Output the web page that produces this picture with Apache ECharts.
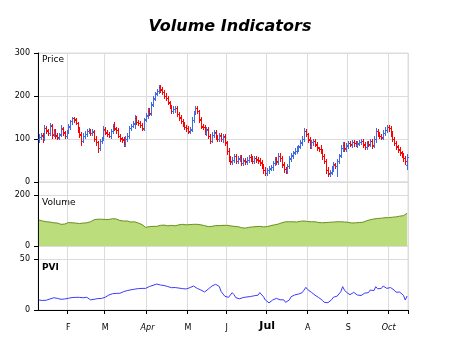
<!DOCTYPE html>
<html><head><meta charset="utf-8">
<script src="https://cdn.jsdelivr.net/npm/echarts@6/dist/echarts.min.js"></script>
<style>html,body{margin:0;padding:0;background:#fff}#c{width:460px;height:345px}</style>
</head><body><div id="c"></div>
<script>
// ---- data ----
const startDate = [2021, 0, 8];   // first trading day shown
const barCount = 201;
const monthTickLabels = ['J','F','M','Apr','M','J','Jul','A','S','Oct','N','D'];
const priceTicks = [0, 100, 200, 300];
const volumeTicks = [0, 200];
const pviTicks = [0, 50];

const opens = [
100,104,110,102,126,120,114,130,111,121,
109,103,110,124,116,107,119,129,141,149,
146,137,123,111,96,107,111,119,121,114,
117,101,93,79,96,101,123,116,111,107,
119,131,124,121,107,101,99,87,101,107,
126,131,137,149,139,137,133,124,146,154,166,
159,181,194,206,211,221,216,209,201,196,
184,176,164,169,173,157,151,141,136,127,
126,117,123,144,161,173,164,146,129,127,
114,123,107,96,109,116,104,99,109,99,
106,91,73,56,47,51,61,49,54,59,
44,51,47,51,59,56,49,56,53,51,
46,39,29,21,27,31,34,44,53,47,
61,56,41,31,27,37,54,61,69,71,
77,83,91,101,119,111,99,84,93,96,
87,81,77,71,61,49,29,19,23,31,41,
37,49,61,79,86,77,84,91,87,93,
91,87,89,93,96,87,81,91,87,96,
84,99,119,113,107,103,114,121,129,126,
113,101,91,83,76,69,63,56,40];
const closes = [
105,108,100,125,118,115,132,110,120,108,
104,112,125,115,108,118,130,142,148,145,
138,122,110,95,108,112,118,120,115,118,
100,92,78,95,100,122,115,112,108,118,
130,125,120,108,102,98,88,100,108,125,
130,136,148,140,138,132,125,145,155,165,160,
180,195,205,212,220,215,210,200,195,185,
175,165,170,172,158,150,142,135,128,125,
118,122,145,160,172,165,145,130,128,115,
122,108,95,110,115,105,100,108,100,105,
92,72,55,48,52,60,50,55,58,45,
50,48,52,58,55,50,55,52,50,45,
38,28,22,28,32,35,45,52,48,60,
55,40,30,28,38,55,62,68,72,78,
82,92,100,118,112,98,85,92,95,88,
80,76,72,60,50,28,20,22,32,40,38,
48,62,78,85,78,85,90,88,92,90,
88,90,92,95,88,82,90,88,95,85,
100,118,112,108,104,115,122,128,125,112,
100,90,82,75,68,62,55,48,58];
const highs = [
111,113,114,133,131,124,138,135,124,124,
113,115,133,129,119,122,135,145,152,152,
150,140,127,117,114,118,123,125,124,123,
120,106,96,100,105,130,127,121,116,124,
136,139,129,125,112,104,104,106,113,130,
135,141,156,153,144,141,137,150,160,171,171,
186,201,210,217,226,225,221,213,206,200,
189,180,176,177,177,162,155,146,140,132,
130,128,151,165,176,177,168,151,134,132,
127,127,112,116,121,120,109,113,113,111,
111,95,79,61,58,66,65,60,63,63,
55,56,57,62,64,61,60,60,58,55,
51,43,34,32,37,39,50,58,58,68,
67,60,46,35,43,61,68,73,78,84,
87,97,106,125,124,115,104,97,99,100,
92,82,85,76,65,54,34,28,37,46,45,
54,66,86,93,92,90,95,95,98,97,
95,95,97,99,100,92,96,96,100,100,
108,126,123,117,112,121,128,133,133,130,
119,105,96,87,81,73,67,60,65];
const lows = [
94,99,92,98,113,109,110,102,107,103,
99,99,106,110,102,103,115,124,136,140,
134,116,104,85,92,102,106,114,110,110,
95,86,70,75,91,97,111,107,104,102,
115,120,114,104,96,92,84,83,96,103,
121,127,125,136,132,127,120,120,141,149,155,
155,176,190,202,206,210,204,195,190,181,
171,160,160,163,153,145,138,130,124,119,
113,113,119,139,157,160,140,126,123,111,
109,102,90,92,104,99,95,95,96,94,
87,66,50,42,42,46,44,44,49,40,
40,43,41,47,50,44,44,46,45,40,
33,22,16,16,22,27,29,39,42,42,
50,35,24,22,22,33,49,56,64,67,
72,79,86,96,106,93,80,79,87,83,
74,71,67,54,44,20,14,14,19,26,33,
15,44,57,73,72,72,79,83,82,84,
83,82,85,88,82,77,77,83,83,80,
82,94,106,103,99,99,109,116,119,107,
95,85,76,70,63,57,50,43,30];
const volumes = [
102,100,98,96,95,96,94,93,91,91,
90,88,85,84,86,89,92,93,91,92,
90,89,88,88,90,92,91,93,95,98,
103,106,105,104,105,103,104,102,104,106,
107,105,106,103,100,101,98,97,98,95,
94,95,95,92,90,88,84,78,73,74,76,
75,77,78,77,80,81,80,82,80,79,
80,81,80,79,81,83,84,85,84,83,
85,84,86,85,84,85,84,83,82,80,
78,76,75,77,78,80,81,80,82,81,
82,81,80,79,78,77,76,76,74,72,
71,70,72,73,74,75,74,76,75,77,
76,75,77,76,79,80,82,83,84,86,
88,91,94,95,96,95,94,95,93,94,
95,97,96,98,97,96,97,95,94,95,
93,92,92,91,90,92,94,93,95,94,96,
95,96,95,96,94,95,93,92,90,89,
91,90,92,94,93,96,99,101,103,104,
106,107,108,110,109,110,111,112,111,112,
113,112,114,115,117,118,119,122,128];
const pvi = [
9.8,9.5,9.3,9.2,9.6,10.3,10.8,11.2,12.0,12.4,
11.4,11.0,10.5,10.6,10.8,10.8,11.5,12.0,12.2,12.4,
12.4,12.3,12.4,11.0,12.0,13.7,12.5,11.8,10.0,9.2,
10.5,10.8,11.2,11.4,11.3,11.4,12.5,13.8,14.7,15.2,
16.0,16.3,16.3,16.3,16.4,17.2,18.0,18.0,19.0,19.6,
19.8,20.1,20.4,20.6,21.0,21.2,21.2,21.2,21.2,22.0,23.0,
23.5,24.2,25.0,25.5,25.0,24.5,24.5,24.0,23.5,23.0,
22.0,21.9,22.4,22.0,21.8,21.5,21.2,21.0,20.8,20.6,
21.0,21.9,22.5,23.5,22.0,21.2,20.0,19.6,18.5,17.6,
18.5,20.5,22.0,23.5,25.0,25.2,24.8,23.0,18.0,16.3,
13.5,12.4,12.4,12.6,17.0,15.0,12.0,10.8,11.0,11.5,
12.2,13.0,12.8,13.0,13.2,13.6,14.0,12.4,14.5,17.0,
17.3,13.0,9.8,8.5,7.0,7.8,9.8,10.8,11.4,10.5,
10.0,11.0,10.0,7.5,6.5,9.8,13.0,14.0,14.8,15.4,
15.6,15.8,17.0,19.5,22.2,20.0,18.5,17.4,16.5,14.5,
13.0,12.2,11.5,9.5,7.5,7.3,7.2,8.5,10.0,12.5,13.0,
13.6,15.5,17.9,22.9,19.5,17.5,16.3,15.0,15.2,17.3,
15.5,14.7,14.5,14.2,16.0,16.5,16.4,17.0,19.6,18.0,
19.0,22.9,20.8,20.5,21.2,23.5,22.5,21.2,20.0,22.0,
21.0,19.5,17.5,16.3,17.5,16.0,14.5,9.8,13.7];

// ---- trading-day categories (weekdays) ----
const dates = [];
(function () {
  let t = Date.UTC(startDate[0], startDate[1], startDate[2]);
  while (dates.length < barCount) {
    const d = new Date(t);
    const wd = d.getUTCDay();
    if (wd !== 0 && wd !== 6) dates.push(d.toISOString().slice(0, 10));
    t += 86400000;
  }
})();
function isMonthStart(i) { return i > 0 && dates[i].slice(5, 7) !== dates[i - 1].slice(5, 7); }

// ---- styles ----
const UP = '#4169e1', DOWN = '#ff0000';
const GRID_C = '#dcdcdc';
const FONT = 'DejaVu Sans';

const ohlcData = closes.map((c, i) => [i, opens[i], c, lows[i], highs[i]]);

function renderOHLC(params, api) {
  const i = api.value(0);
  const o = api.coord([i, api.value(1)]);
  const c = api.coord([i, api.value(2)]);
  const l = api.coord([i, api.value(3)]);
  const h = api.coord([i, api.value(4)]);
  const x = Math.round(o[0]) + 0.5;
  const color = api.value(2) >= api.value(1) ? UP : DOWN;
  const st = { stroke: color, lineWidth: 1 };
  const oy = Math.round(o[1]) + 0.5, cy = Math.round(c[1]) + 0.5;
  return { type: 'group', children: [
    { type: 'line', shape: { x1: x, y1: Math.round(h[1]), x2: x, y2: Math.round(l[1]) + 1 }, style: st },
    { type: 'line', shape: { x1: x - 1.5, y1: oy, x2: x - 0.5, y2: oy }, style: st },
    { type: 'line', shape: { x1: x + 0.5, y1: cy, x2: x + 1.5, y2: cy }, style: st }
  ]};
}

function xAxisCfg(gi, bottom) {
  return {
    type: 'category', gridIndex: gi, data: dates, boundaryGap: true,
    axisLine: { show: bottom, lineStyle: { color: '#000', width: 1 } },
    axisTick: { show: bottom, interval: (idx) => isMonthStart(idx), length: 4, lineStyle: { color: '#000' } },
    splitLine: { show: true, interval: (idx) => isMonthStart(idx), lineStyle: { color: GRID_C, width: 1 } },
    axisLabel: bottom ? {
      show: true, interval: (idx) => isMonthStart(idx), margin: 10,
      fontFamily: FONT, fontSize: 8, color: '#000',
      formatter: function (v) {
        const m = +v.slice(5, 7) - 1;
        const t = monthTickLabels[m];
        if (m === 6) return '{b|' + t + '}';
        if (m === 3 || m === 9) return '{i|' + t + '}';
        return '{n|' + t + '}';
      },
      rich: {
        n: { fontFamily: FONT, fontSize: 8, color: '#000', lineHeight: 12, verticalAlign: 'bottom' },
        i: { fontFamily: FONT, fontSize: 8, fontStyle: 'italic', color: '#000', lineHeight: 12, verticalAlign: 'bottom' },
        b: { fontFamily: FONT, fontSize: 11, fontWeight: 'bold', color: '#000', lineHeight: 12, verticalAlign: 'bottom' }
      }
    } : { show: false }
  };
}

function yAxisCfg(gi, max, interval, ticks) {
  return {
    type: 'value', gridIndex: gi, min: 0, max: max, interval: interval,
    axisLine: { show: true, lineStyle: { color: '#000', width: 1 } },
    axisTick: { show: true, length: 4, inside: false, lineStyle: { color: '#000' } },
    splitLine: { show: true, lineStyle: { color: GRID_C, width: 1 } },
    axisLabel: {
      margin: 8, fontFamily: FONT, fontSize: 8, color: '#000',
      showMaxLabel: ticks.indexOf(max) >= 0,
      formatter: (v) => ticks.indexOf(v) >= 0 ? String(v) : ''
    }
  };
}

const chart = echarts.init(document.getElementById('c'), null, { renderer: 'canvas' });
chart.setOption({
  animation: false,
  backgroundColor: '#fff',
  title: {
    text: 'Volume Indicators', left: 'center', top: 14,
    textStyle: { fontFamily: FONT, fontSize: 16, fontWeight: 'bold', fontStyle: 'italic', color: '#000' }
  },
  grid: [
    { left: 38, right: 52, top: 53, height: 129, show: true, borderColor: GRID_C, borderWidth: 1 },
    { left: 38, right: 52, top: 182, height: 64, show: true, borderColor: GRID_C, borderWidth: 1 },
    { left: 38, right: 52, top: 246, height: 64, show: true, borderColor: GRID_C, borderWidth: 1 }
  ],
  xAxis: [xAxisCfg(0, false), xAxisCfg(1, false), xAxisCfg(2, true)],
  yAxis: [
    yAxisCfg(0, 300, 100, priceTicks),
    yAxisCfg(1, 251, 200, volumeTicks),
    yAxisCfg(2, 62.75, 50, pviTicks)
  ],
  graphic: [
    { type: 'text', left: 42, top: 55, style: { text: 'Price', font: '9px "DejaVu Sans"', fill: '#000' } },
    { type: 'text', left: 42, top: 198, style: { text: 'Volume', font: '9px "DejaVu Sans"', fill: '#000' } },
    { type: 'text', left: 42, top: 263, style: { text: 'PVI', font: 'bold 9px "DejaVu Sans"', fill: '#000' } }
  ],
  series: [
    {
      type: 'custom', name: 'Price', xAxisIndex: 0, yAxisIndex: 0,
      renderItem: renderOHLC, data: ohlcData, encode: { x: 0, y: [1, 2, 3, 4] }, z: 5
    },
    {
      type: 'line', name: 'Volume', xAxisIndex: 1, yAxisIndex: 1, data: volumes,
      showSymbol: false, symbol: 'none',
      lineStyle: { color: '#6b8e23', width: 1 },
      areaStyle: { color: '#bcdd7b', opacity: 1 }, z: 3
    },
    {
      type: 'line', name: 'PVI', xAxisIndex: 2, yAxisIndex: 2, data: pvi,
      showSymbol: false, symbol: 'none',
      lineStyle: { color: '#3a3aff', width: 1 }, z: 3
    }
  ]
});
</script>
</body></html>
